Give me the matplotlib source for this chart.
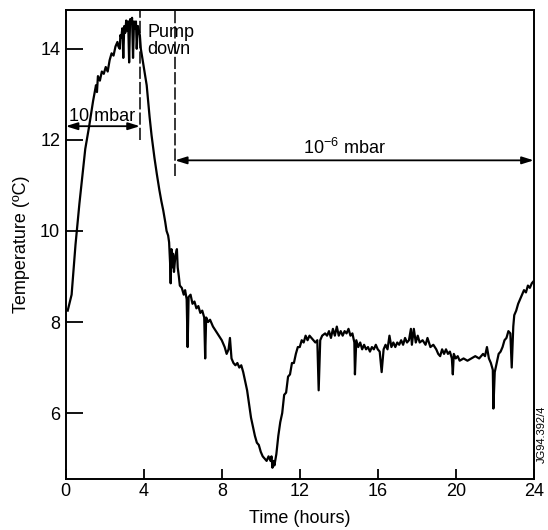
import matplotlib
matplotlib.use("Agg")
import matplotlib.pyplot as plt

plt.rcParams['font.family'] = ['Liberation Sans', 'DejaVu Sans']
plt.rcParams['mathtext.fontset'] = 'custom'
plt.rcParams['mathtext.rm'] = 'Liberation Sans'

# --- data (time in hours, temperature in degC) ---
time_h = [0.1, 0.3, 0.5, 0.7, 0.9, 1.0, 1.2, 1.4, 1.55, 1.6, 1.65, 1.75, 1.85, 1.95,
          2.05, 2.15, 2.25, 2.35, 2.45, 2.55, 2.65, 2.7, 2.77, 2.8, 2.85, 2.9, 2.95,
          3.0, 3.05, 3.1, 3.15, 3.2, 3.25, 3.3, 3.35, 3.4, 3.45, 3.5, 3.55, 3.6, 3.64,
          3.7, 3.8, 3.85, 4.0, 4.15, 4.3, 4.4, 4.55, 4.67, 4.8, 4.9, 5.0, 5.1, 5.17,
          5.25, 5.3, 5.35, 5.38, 5.42, 5.45, 5.5, 5.55, 5.62, 5.7, 5.74, 5.8, 5.85,
          5.95, 6.05, 6.12, 6.2, 6.25, 6.3, 6.4, 6.5, 6.6, 6.7, 6.8, 6.9, 7.0, 7.1,
          7.15, 7.2, 7.3, 7.4, 7.55, 7.7, 7.85, 8.0, 8.15, 8.25, 8.35, 8.42, 8.5, 8.6,
          8.7, 8.8, 8.9, 9.0, 9.1, 9.2, 9.3, 9.4, 9.5, 9.6, 9.7, 9.8, 9.9, 10.0, 10.1,
          10.2, 10.3, 10.4, 10.5, 10.55, 10.6, 10.65, 10.7, 10.8, 10.9, 11.0, 11.1,
          11.2, 11.3, 11.4, 11.5, 11.6, 11.7, 11.8, 11.9, 12.0, 12.1, 12.2, 12.3,
          12.4, 12.5, 12.6, 12.7, 12.8, 12.9, 12.97, 13.05, 13.15, 13.3, 13.4, 13.5,
          13.6, 13.7, 13.8, 13.9, 14.0, 14.1, 14.2, 14.3, 14.4, 14.5, 14.6, 14.7,
          14.8, 14.83, 14.9, 15.0, 15.1, 15.2, 15.3, 15.4, 15.5, 15.6, 15.7, 15.8,
          15.9, 16.0, 16.1, 16.2, 16.3, 16.4, 16.5, 16.6, 16.7, 16.8, 16.9, 17.0,
          17.1, 17.2, 17.3, 17.4, 17.5, 17.6, 17.7, 17.75, 17.85, 17.95, 18.05, 18.15,
          18.3, 18.45, 18.55, 18.7, 18.85, 19.0, 19.1, 19.2, 19.3, 19.4, 19.5, 19.6,
          19.7, 19.8, 19.85, 19.9, 20.0, 20.1, 20.2, 20.4, 20.6, 20.8, 21.0, 21.2,
          21.4, 21.5, 21.6, 21.7, 21.8, 21.9, 21.93, 22.0, 22.1, 22.2, 22.3, 22.4,
          22.5, 22.6, 22.7, 22.8, 22.87, 22.95, 23.0, 23.1, 23.2, 23.3, 23.4, 23.5,
          23.6, 23.7, 23.8, 23.9, 24.0]
temp_c = [8.25, 8.6, 9.7, 10.6, 11.4, 11.8, 12.3, 12.85, 13.2, 13.05, 13.4, 13.3, 13.5, 13.45,
          13.6, 13.5, 13.75, 13.9, 13.85, 14.05, 14.15, 14.05, 14.0, 14.3, 14.25, 14.45, 13.8,
          14.5, 14.35, 14.62, 14.4, 14.6, 13.7, 14.65, 14.55, 14.68, 13.8, 14.6, 14.45, 14.6, 14.0,
          14.5, 14.3, 14.0, 13.6, 13.2, 12.5, 12.1, 11.6, 11.25, 10.9, 10.66, 10.45, 10.2, 10.0,
          9.9, 9.75, 9.3, 8.85, 9.6, 9.2, 9.5, 9.1, 9.45, 9.6, 9.2, 9.0, 8.8,
          8.75, 8.6, 8.7, 8.5, 7.45, 8.55, 8.6, 8.4, 8.45, 8.3, 8.35, 8.2, 8.25, 8.1,
          7.2, 8.1, 8.0, 8.05, 7.9, 7.8, 7.7, 7.6, 7.45, 7.3, 7.4, 7.65, 7.2, 7.1,
          7.05, 7.1, 7.0, 7.05, 6.9, 6.7, 6.5, 6.2, 5.9, 5.7, 5.5, 5.35, 5.3, 5.15, 5.05,
          5.0, 4.95, 5.05, 4.95, 5.05, 4.8, 4.95, 4.85, 5.1, 5.5, 5.8, 6.0,
          6.4, 6.45, 6.8, 6.85, 7.1, 7.1, 7.3, 7.45, 7.45, 7.6, 7.55, 7.7,
          7.6, 7.7, 7.65, 7.6, 7.55, 7.6, 6.5, 7.6, 7.7, 7.75, 7.7, 7.8,
          7.65, 7.85, 7.7, 7.9, 7.7, 7.8, 7.7, 7.8, 7.75, 7.85, 7.7, 7.75,
          7.55, 6.85, 7.6, 7.45, 7.55, 7.4, 7.5, 7.4, 7.45, 7.35, 7.45, 7.4,
          7.5, 7.4, 7.35, 6.9, 7.4, 7.5, 7.4, 7.7, 7.45, 7.55, 7.45, 7.55,
          7.5, 7.6, 7.5, 7.65, 7.55, 7.6, 7.85, 7.5, 7.85, 7.55, 7.7, 7.55,
          7.6, 7.5, 7.65, 7.45, 7.5, 7.4, 7.3, 7.25, 7.4, 7.3, 7.4, 7.3,
          7.35, 7.2, 6.85, 7.3, 7.2, 7.25, 7.15, 7.2, 7.15, 7.2, 7.25, 7.2,
          7.3, 7.25, 7.45, 7.2, 7.1, 6.95, 6.1, 6.9, 7.1, 7.3, 7.35, 7.45,
          7.6, 7.65, 7.8, 7.75, 7.0, 7.9, 8.15, 8.25, 8.4, 8.5, 8.6, 8.7,
          8.65, 8.8, 8.75, 8.85, 8.9]

x_ticks = [0, 4, 8, 12, 16, 20, 24]
y_ticks = [6, 8, 10, 12, 14]

pump_start = 3.8    # end of 10 mbar phase
pump_end = 5.6      # start of 1e-6 mbar phase

fs = 13

fig = plt.figure(figsize=(5.48, 5.30), dpi=100)
ax = fig.add_axes([0.120, 0.096, 0.854, 0.885])

ax.plot(time_h, temp_c, color='black', lw=1.6)

ax.set_xlim(0, 24)
ax.set_ylim(4.55, 14.85)
ax.set_xticks(x_ticks)
ax.set_yticks(y_ticks)
ax.tick_params(axis='x', direction='in', length=7, width=1.3, labelsize=fs, pad=3)
ax.tick_params(axis='y', direction='in', length=12, width=1.3, labelsize=fs, pad=4)
for s in ax.spines.values():
    s.set_linewidth(1.4)

ax.set_xlabel('Time (hours)', fontsize=fs, labelpad=7)
ax.set_ylabel('Temperature (ºC)', fontsize=fs, labelpad=7)

# phase markers
ax.plot([pump_start, pump_start], [12.0, 14.85], color='black', lw=1.1,
        ls=(0, (8, 2)))
ax.plot([pump_end, pump_end], [11.2, 14.85], color='black', lw=1.1,
        ls=(0, (8, 2)))

arrow = dict(arrowstyle='<|-|>,head_length=0.7,head_width=0.22', color='black',
             lw=1.3, shrinkA=0, shrinkB=0)
ax.annotate('', xy=(0, 12.3), xytext=(pump_start, 12.3), arrowprops=arrow)
ax.annotate('', xy=(pump_end, 11.55), xytext=(24, 11.55), arrowprops=arrow)

ax.text(0.15, 12.42, '10 mbar', fontsize=fs, ha='left', va='baseline')
ax.text(14.3, 11.7, r'10$^{\mathregular{-6}}$ mbar', fontsize=fs, ha='center',
        va='baseline')
ax.text(4.2, 14.55, 'Pump\ndown', fontsize=fs, ha='left', va='top', linespacing=1.05)

fig.text(0.988, 0.18, 'JG94.392/4', rotation=90, fontsize=8, ha='center', va='center')

fig.savefig('out.png', dpi=100)
